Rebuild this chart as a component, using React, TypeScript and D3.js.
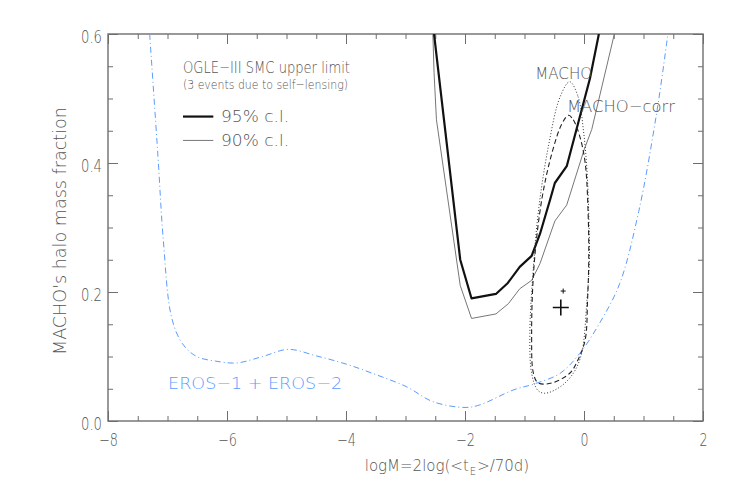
import React, { useEffect, useRef } from "react";
import * as d3 from "d3";

// axis ticks
const xTickValues = [-8, -6, -4, -2, 0, 2];
const yTickValues = [0, 0.2, 0.4, 0.6];

// OGLE-III SMC upper limit, 95% c.l. (logM, halo fraction)
const ogle95: [number, number][] = [
  [-2.52, 0.6], [-2.47, 0.56], [-2.08, 0.25], [-1.89, 0.19], [-1.48, 0.197],
  [-1.28, 0.214], [-1.08, 0.239], [-0.88, 0.256], [-0.74, 0.29], [-0.57, 0.343],
  [-0.49, 0.369], [-0.29, 0.395], [0.1, 0.531], [0.25, 0.6],
];

// OGLE-III SMC upper limit, 90% c.l.
const ogle90: [number, number][] = [
  [-2.54, 0.6], [-2.52, 0.54], [-2.48, 0.467], [-2.08, 0.21], [-1.89, 0.159],
  [-1.48, 0.166], [-1.27, 0.182], [-1.08, 0.205], [-0.88, 0.218], [-0.74, 0.244],
  [-0.49, 0.31], [-0.29, 0.335], [0.0, 0.42], [0.13, 0.452], [0.51, 0.6],
];

// EROS-1 + EROS-2 limit
const eros: [number, number][] = [
  [-7.3, 0.6], [-7.16, 0.41], [-7.07, 0.28], [-6.93, 0.16], [-6.75, 0.12],
  [-6.51, 0.1], [-6.2, 0.093], [-5.84, 0.09], [-5.4, 0.1], [-4.97, 0.111],
  [-4.5, 0.101], [-3.99, 0.088], [-3.5, 0.072], [-2.98, 0.053], [-2.54, 0.03],
  [-2.0, 0.021], [-1.75, 0.025], [-1.19, 0.048], [-0.82, 0.058], [-0.4, 0.074],
  [-0.07, 0.105], [0.27, 0.153], [0.6, 0.213], [0.92, 0.325], [1.22, 0.477],
  [1.41, 0.6],
];

// MACHO contour (dotted)
const machoContour: [number, number][] = [
  [-0.24, 0.526], [-0.1, 0.503], [-0.01, 0.451], [0.05, 0.389], [0.08, 0.32],
  [0.09, 0.25], [0.05, 0.188], [-0.04, 0.105], [-0.18, 0.074], [-0.4, 0.053],
  [-0.66, 0.043], [-0.78, 0.048], [-0.88, 0.074], [-0.91, 0.136], [-0.85, 0.239],
  [-0.76, 0.33], [-0.6, 0.425], [-0.4, 0.503],
];

// MACHO-corr contour (dashed)
const machoCorrContour: [number, number][] = [
  [-0.26, 0.474], [-0.18, 0.467], [-0.07, 0.441], [0.02, 0.4], [0.07, 0.32],
  [0.08, 0.25], [0.06, 0.188], [0.02, 0.126], [-0.1, 0.095], [-0.24, 0.074],
  [-0.54, 0.059], [-0.77, 0.059], [-0.85, 0.074], [-0.88, 0.136], [-0.84, 0.24],
  [-0.71, 0.343], [-0.54, 0.415], [-0.37, 0.461],
];

const machoBest: [number, number] = [-0.39, 0.176];
const machoCorrBest: [number, number] = [-0.35, 0.2015];

const FONT = "'DejaVu Sans', sans-serif";
const TXT = "#555";
const AXIS = "#6e6e6e";
const BLUE = "#5a9cff";

// rough width of a tick label in the reference's narrow font
const labelWidth = (s: string) =>
  s.split("").reduce((w, c) => w + (c === "." ? 5 : c === "\u2212" ? 11 : 8), 0);

export default function App() {
  const ref = useRef<SVGSVGElement>(null);

  useEffect(() => {
    const width = 736;
    const height = 490;
    const margin = { top: 34, right: 33, bottom: 69, left: 108 };
    const innerW = width - margin.left - margin.right;
    const innerH = height - margin.top - margin.bottom;

    const svg = d3.select(ref.current);
    svg.selectAll("*").remove();
    svg.attr("width", width).attr("height", height);

    const x = d3.scaleLinear().domain([-8, 2]).range([0, innerW]);
    const y = d3.scaleLinear().domain([0, 0.6]).range([innerH, 0]);

    const g = svg.append("g").attr("transform", `translate(${margin.left},${margin.top})`);

    g.append("clipPath").attr("id", "plotclip").append("rect")
      .attr("width", innerW).attr("height", innerH);

    const xMinor = d3.range(-8, 2.001, 0.5);
    const yMinor = d3.range(0, 0.6001, 0.05);

    // axes with inward ticks (minor first, then major)
    const styleAxis = (sel: any) => {
      sel.select(".domain").remove();
      sel.selectAll("line").attr("stroke", AXIS).attr("stroke-width", 1);
      sel.selectAll("text").attr("fill", TXT).style("font-family", FONT)
        .style("font-weight", 200).style("font-size", "17px")
        .attr("lengthAdjust", "spacingAndGlyphs")
        .each(function (this: any) {
          const t = d3.select(this).text();
          if (t) d3.select(this).attr("textLength", labelWidth(t));
        });
    };

    g.append("g").attr("transform", `translate(0,${innerH})`)
      .call(d3.axisBottom(x).tickValues(xMinor).tickSize(-5).tickFormat(() => "")).call(styleAxis);
    g.append("g").attr("transform", `translate(0,${innerH})`)
      .call(d3.axisBottom(x).tickValues(xTickValues).tickSize(-10).tickPadding(13).tickFormat(d3.format("d") as any))
      .call(styleAxis);
    g.append("g").call(d3.axisTop(x).tickValues(xMinor).tickSize(-5).tickFormat(() => "")).call(styleAxis);
    g.append("g").call(d3.axisTop(x).tickValues(xTickValues).tickSize(-10).tickFormat(() => "")).call(styleAxis);

    g.append("g").call(d3.axisLeft(y).tickValues(yMinor).tickSize(-5).tickFormat(() => "")).call(styleAxis);
    const yAx = g.append("g")
      .call(d3.axisLeft(y).tickValues(yTickValues).tickSize(-10).tickPadding(6).tickFormat(d3.format(".1f") as any))
      .call(styleAxis);
    yAx.selectAll("text").attr("dy", "0.5em");
    g.append("g").attr("transform", `translate(${innerW},0)`)
      .call(d3.axisRight(y).tickValues(yMinor).tickSize(-5).tickFormat(() => "")).call(styleAxis);
    g.append("g").attr("transform", `translate(${innerW},0)`)
      .call(d3.axisRight(y).tickValues(yTickValues).tickSize(-10).tickFormat(() => "")).call(styleAxis);

    g.append("rect").attr("width", innerW).attr("height", innerH)
      .attr("fill", "none").attr("stroke", AXIS).attr("stroke-width", 1.4);

    const plot = g.append("g").attr("clip-path", "url(#plotclip)");

    const linear = d3.line<[number, number]>().x(d => x(d[0])).y(d => y(d[1]));
    const smooth = d3.line<[number, number]>().x(d => x(d[0])).y(d => y(d[1]))
      .curve(d3.curveCatmullRom.alpha(0.5));
    const closed = d3.line<[number, number]>().x(d => x(d[0])).y(d => y(d[1]))
      .curve(d3.curveCatmullRomClosed.alpha(0.5));

    plot.append("path").attr("d", smooth(eros)).attr("fill", "none")
      .attr("stroke", BLUE).attr("stroke-width", 1).attr("stroke-dasharray", "6,3,1,3");

    plot.append("path").attr("d", linear(ogle90)).attr("fill", "none")
      .attr("stroke", "#777").attr("stroke-width", 1);
    plot.append("path").attr("d", linear(ogle95)).attr("fill", "none")
      .attr("stroke", "#111").attr("stroke-width", 2.2).attr("stroke-linejoin", "round");

    plot.append("path").attr("d", closed(machoContour)).attr("fill", "none")
      .attr("stroke", "#333").attr("stroke-width", 1).attr("stroke-dasharray", "1,2");
    plot.append("path").attr("d", closed(machoCorrContour)).attr("fill", "none")
      .attr("stroke", "#222").attr("stroke-width", 1.1).attr("stroke-dasharray", "5,3");

    // best fit crosses
    const cross = (p: [number, number], r: number, w: number) => {
      const cx = x(p[0]);
      const cy = y(p[1]);
      plot.append("path").attr("d", `M${cx - r},${cy}H${cx + r}M${cx},${cy - r}V${cy + r}`)
        .attr("stroke", "#111").attr("stroke-width", w);
    };
    cross(machoBest, 8, 1.6);
    cross(machoCorrBest, 2.5, 1);

    // annotations
    const label = (tx: number, ty: number, text: string, size: number, len: number, color = TXT) =>
      g.append("text").attr("x", x(tx)).attr("y", y(ty)).attr("fill", color)
        .style("font-family", FONT).style("font-weight", 200).style("font-size", `${size}px`)
        .attr("textLength", len).attr("lengthAdjust", "spacingAndGlyphs").text(text);

    label(-6.74, 0.54, "OGLE\u2212III SMC upper limit", 16, 167);
    label(-6.74, 0.514, "(3 events due to self\u2212lensing)", 13, 165);
    label(-6.1, 0.464, "95% c.l.", 16, 68);
    label(-6.1, 0.427, "90% c.l.", 16, 68);
    label(-0.82, 0.53, "MACHO", 16, 57);
    label(-0.286, 0.4795, "MACHO\u2212corr", 16, 108);
    label(-6.99, 0.0496, "EROS\u22121 + EROS\u22122", 16, 174, BLUE);

    g.append("line").attr("x1", x(-6.74)).attr("x2", x(-6.23)).attr("y1", y(0.472)).attr("y2", y(0.472))
      .attr("stroke", "#111").attr("stroke-width", 2.2);
    g.append("line").attr("x1", x(-6.74)).attr("x2", x(-6.23)).attr("y1", y(0.435)).attr("y2", y(0.435))
      .attr("stroke", "#777").attr("stroke-width", 1);

    // axis titles
    const xt = svg.append("text").attr("x", 447).attr("y", 471).attr("text-anchor", "middle")
      .attr("fill", TXT).style("font-family", FONT).style("font-weight", 200).style("font-size", "15px");
    xt.append("tspan").text("logM=2log(<t");
    xt.append("tspan").attr("dx", 1).attr("dy", 4).style("font-size", "10px").text("E");
    xt.append("tspan").attr("dx", 1).attr("dy", -4).text(">/70d)");

    svg.append("text").attr("transform", "translate(66,231) rotate(-90)").attr("text-anchor", "middle")
      .attr("fill", TXT).style("font-family", FONT).style("font-weight", 200).style("font-size", "17px")
      .attr("textLength", 248).attr("lengthAdjust", "spacingAndGlyphs")
      .text("MACHO's halo mass fraction");
  }, []);

  return <svg ref={ref} style={{ position: "absolute", left: 0, top: 0 }}></svg>;
}
